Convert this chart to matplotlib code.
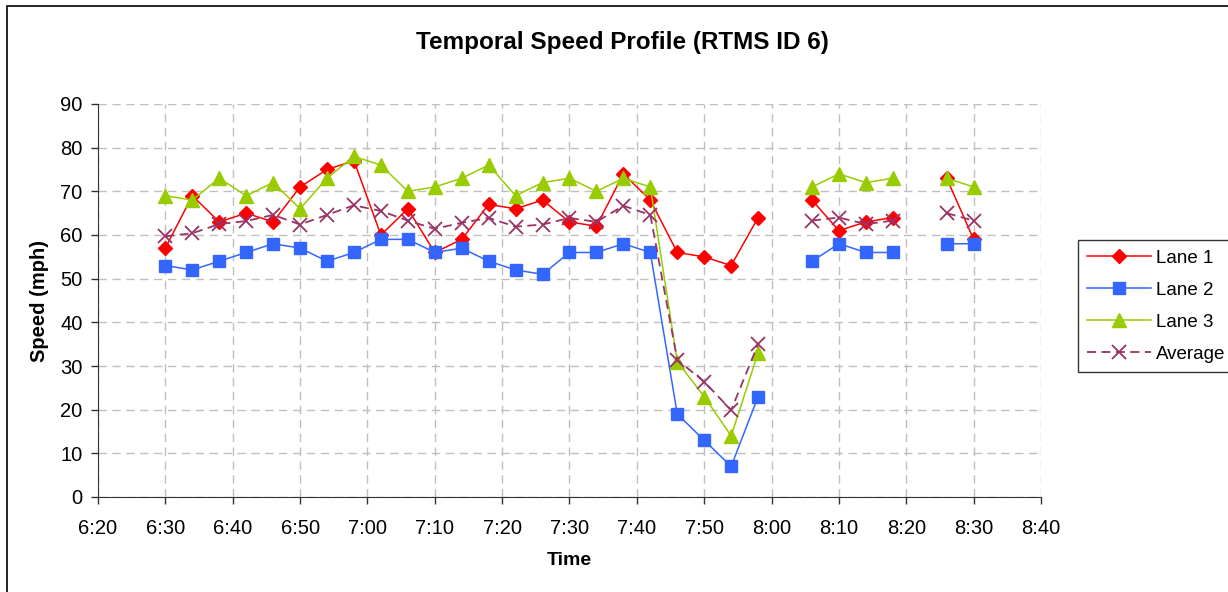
import numpy as np
import matplotlib.pyplot as plt
from matplotlib.patches import Rectangle

plt.rcParams['font.family'] = ['Liberation Sans', 'DejaVu Sans']

nan = np.nan

times = ['6:30', '6:34', '6:38', '6:42', '6:46', '6:50', '6:54', '6:58',
         '7:02', '7:06', '7:10', '7:14', '7:18', '7:22', '7:26', '7:30',
         '7:34', '7:38', '7:42', '7:46', '7:50', '7:54', '7:58', '8:02',
         '8:06', '8:10', '8:14', '8:18', '8:22', '8:26', '8:30']

lane1 = [57, 69, 63, 65, 63, 71, 75, 77, 60, 66, 56, 59, 67, 66, 68, 63,
         62, 74, 68, 56, 55, 53, 64, nan, 68, 61, 63, 64, nan, 73, 59]
lane2 = [53, 52, 54, 56, 58, 57, 54, 56, 59, 59, 56, 57, 54, 52, 51, 56,
         56, 58, 56, 19, 13, 7, 23, nan, 54, 58, 56, 56, nan, 58, 58]
lane3 = [69, 68, 73, 69, 72, 66, 73, 78, 76, 70, 71, 73, 76, 69, 72, 73,
         70, 73, 71, 31, 23, 14, 33, nan, 71, 74, 72, 73, nan, 73, 71]
average = [59.7, 60.4, 62.5, 63.2, 64.6, 62.4, 64.6, 66.8, 65.5, 63.3, 61.4, 62.8,
           63.9, 61.9, 62.4, 63.9, 63.0, 66.7, 64.6, 31.4, 26.4, 19.9, 35.0, nan,
           63.3, 64.0, 62.5, 63.3, nan, 65.0, 63.3]

tick_labels = ['6:20', '6:30', '6:40', '6:50', '7:00', '7:10', '7:20', '7:30',
               '7:40', '7:50', '8:00', '8:10', '8:20', '8:30', '8:40']


def to_min(s):
    h, m = s.split(':')
    return int(h) * 60 + int(m)


x = [to_min(t) for t in times]
xticks = [to_min(t) for t in tick_labels]

fig = plt.figure(figsize=(12.28, 5.92), dpi=100)
ax = fig.add_axes([98 / 1228, 1 - 497 / 592, (1041 - 98) / 1228, (497 - 104) / 592])

ax.plot(x, lane1, color='#FF0000', lw=1.1, marker='D', ms=7.5, label='Lane 1')
ax.plot(x, lane2, color='#3366FF', lw=1.1, marker='s', ms=8, label='Lane 2')
ax.plot(x, lane3, color='#99CC00', lw=1.1, marker='^', ms=9.5, label='Lane 3')
ax.plot(x, average, color='#993366', lw=1.3, ls=(0, (5, 3)), marker='x', ms=10,
        mew=1.3, label='Average')

ax.set_xlim(xticks[0], xticks[-1])
ax.set_ylim(0, 90)
ax.set_xticks(xticks)
ax.set_xticklabels(tick_labels)
ax.set_yticks(range(0, 91, 10))
ax.tick_params(labelsize=14.5, length=5, width=1, color='#333333', pad=11)
ax.tick_params(axis='y', pad=6)
ax.grid(True, color='#BFBFBF', ls=(0, (6, 4)), lw=1)
ax.set_axisbelow(True)
for s in ['top', 'right']:
    ax.spines[s].set_visible(False)
for s in ['left', 'bottom']:
    ax.spines[s].set_color('#333333')

ax.set_xlabel('Time', fontsize=14, fontweight='bold', labelpad=10)
ax.set_ylabel('Speed (mph)', fontsize=14.5, fontweight='bold', labelpad=8)
fig.text(0.507, 1 - 43 / 592, 'Temporal Speed Profile (RTMS ID 6)', ha='center',
         va='center', fontsize=17.5, fontweight='bold')

leg = fig.legend(loc='upper left', bbox_to_anchor=(1078 / 1228, 1 - 240 / 592),
                 fontsize=13.5, frameon=True, fancybox=False, handlelength=3.4,
                 borderaxespad=0, labelspacing=0.8, handletextpad=0.25, borderpad=0.5)
leg.get_frame().set_edgecolor('black')
leg.get_frame().set_linewidth(1)

# outer chart border (cut off on the right and bottom in the original)
fig.patches.append(Rectangle((7 / 1228, -0.1), 1.1, 1 - 6 / 592 + 0.1,
                             transform=fig.transFigure, fill=False,
                             edgecolor='black', lw=1.2))

fig.savefig('out.png', dpi=100)
